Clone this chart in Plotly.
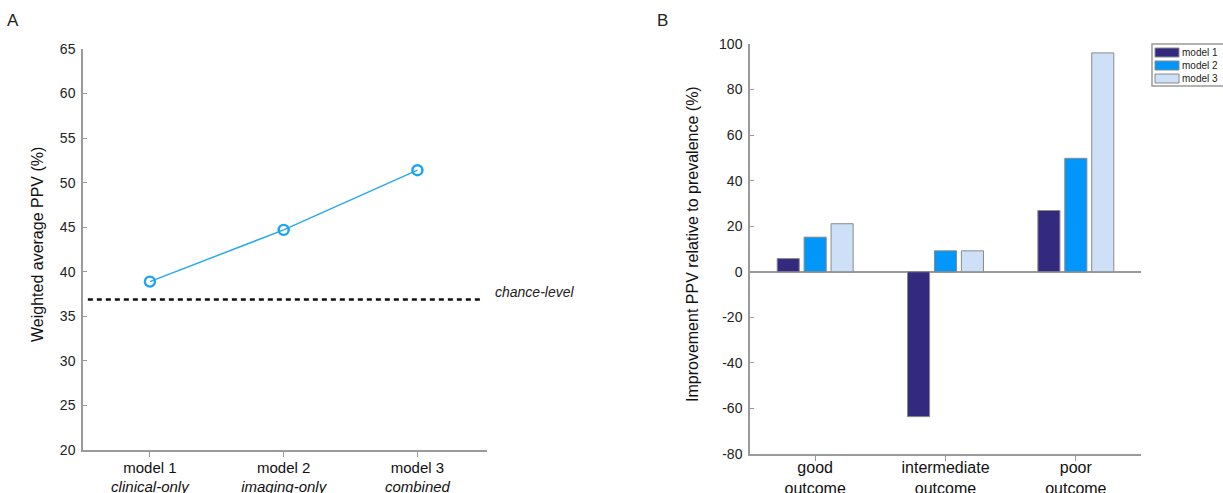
import plotly.graph_objects as go

# Panel A data
models = ["model 1", "model 2", "model 3"]
model_desc = ["clinical-only", "imaging-only", "combined"]
weighted_ppv = [38.9, 44.7, 51.4]
chance_level = 36.9

# Panel B data
outcomes = ["good<br>outcome", "intermediate<br>outcome", "poor<br>outcome"]
model1_impr = [5.8, -63.6, 26.9]
model2_impr = [15.2, 9.2, 49.8]
model3_impr = [21.1, 9.2, 96.1]
bar_colors = ["#332a80", "#0096fa", "#cde0f7"]
yA_ticks = [20, 25, 30, 35, 40, 45, 50, 55, 60, 65]
yB_ticks = [-80, -60, -40, -20, 0, 20, 40, 60, 80, 100]

W, H = 1223, 493
FONT = "Liberation Sans, Arial, Helvetica, sans-serif"
AXC = "#9a9a9a"


def px(x):
    return x / W


def py(y):
    return 1 - y / H


fig = go.Figure()

xA = list(range(len(models)))
fig.add_trace(go.Scatter(
    x=xA, y=weighted_ppv, mode="lines+markers",
    line=dict(color="#2aa8f0", width=1.5),
    marker=dict(symbol="circle-open", size=10, color="#1aa3f5", line=dict(width=2.4, color="#1aa3f5")),
    showlegend=False, xaxis="x", yaxis="y"))

xB = list(range(len(outcomes)))
for name, vals, col in zip(models, [model1_impr, model2_impr, model3_impr], bar_colors):
    fig.add_trace(go.Bar(
        x=xB, y=vals, name=name, marker=dict(color=col, line=dict(color="#8a8a8a", width=1)),
        showlegend=False, xaxis="x2", yaxis="y2"))

fig.add_shape(type="line", xref="x domain", yref="y", x0=0.012, x1=0.988,
              y0=chance_level, y1=chance_level,
              line=dict(color="#111", width=2.5, dash="5px,4px"))

fig.add_annotation(text="<i>chance-level</i>", xref="paper", yref="y", x=px(493), y=chance_level,
                   xanchor="left", yanchor="middle", yshift=7, showarrow=False,
                   font=dict(size=14, color="#222", family=FONT))

# manual legend (wide swatches like the reference)
fig.add_shape(type="rect", xref="paper", yref="paper", x0=px(1152), x1=px(1226), y0=py(86), y1=py(44),
              line=dict(color=AXC, width=1.5), fillcolor="white", layer="above")
for i, (name, col) in enumerate(zip(models, bar_colors)):
    top = 48 + i * 13
    fig.add_shape(type="rect", xref="paper", yref="paper", x0=px(1155), x1=px(1179),
                  y0=py(top + 9), y1=py(top), line=dict(color="#8a8a8a", width=1),
                  fillcolor=col, layer="above")
    fig.add_annotation(text=name, xref="paper", yref="paper", x=px(1180), y=py(top + 4.5),
                       xanchor="left", yanchor="middle", showarrow=False,
                       font=dict(size=10, color="#222", family=FONT))

# panel letters
fig.add_annotation(text="A", xref="paper", yref="paper", x=px(5), y=py(20), xanchor="left",
                   yanchor="middle", showarrow=False, font=dict(size=17, color="#222", family=FONT))
fig.add_annotation(text="B", xref="paper", yref="paper", x=px(655), y=py(20), xanchor="left",
                   yanchor="middle", showarrow=False, font=dict(size=17, color="#222", family=FONT))

# y-axis titles
fig.add_annotation(text="Weighted average PPV (%)", xref="paper", yref="paper", x=px(37),
                   y=py(245), textangle=-90, xanchor="center", yanchor="middle", showarrow=False,
                   font=dict(size=16, color="#111", family=FONT))
fig.add_annotation(text="Improvement PPV relative to prevalence (%)", xref="paper", yref="paper",
                   x=px(692), y=py(244), textangle=-90, xanchor="center", yanchor="middle",
                   showarrow=False, font=dict(size=16, color="#111", family=FONT))

tickfont = dict(size=14, color="#222", family=FONT)
common_y = dict(showgrid=False, showline=True, linecolor=AXC, linewidth=1.5, ticks="inside",
                ticklen=4, tickcolor=AXC, tickfont=tickfont, zeroline=False, automargin=False)
common_x = dict(showgrid=False, showline=True, linecolor=AXC, linewidth=1.5, ticks="outside",
                ticklen=5, tickcolor=AXC, zeroline=False, automargin=False)

fig.update_layout(
    width=W, height=H, margin=dict(l=0, r=0, t=0, b=0, autoexpand=False),
    paper_bgcolor="white", plot_bgcolor="white",
    font=dict(family=FONT, color="#222"),
    barmode="group", bargap=0.38, bargroupgap=0.18, showlegend=False,
    xaxis=dict(domain=[px(83), px(487)], range=[-0.5, 2.52], tickvals=xA,
               ticktext=[f"{m}<br><i>{d}</i>" for m, d in zip(models, model_desc)],
               tickfont=dict(size=15, color="#111", family=FONT), anchor="y", **common_x),
    yaxis=dict(domain=[py(450), py(49)], range=[20, 65], tickvals=yA_ticks,
               ticktext=[str(v) for v in yA_ticks], anchor="x", **common_y),
    xaxis2=dict(domain=[px(750), px(1141)], range=[-0.5, 2.5], tickvals=xB, ticktext=outcomes,
                tickfont=dict(size=16, color="#111", family=FONT), anchor="y2", **common_x),
    yaxis2=dict(domain=[py(454), py(44)], range=[-80, 100], tickvals=yB_ticks,
                ticktext=[str(v) for v in yB_ticks], anchor="x2", **common_y),
)
fig.update_yaxes(zeroline=True, zerolinecolor=AXC, zerolinewidth=1.5, selector=dict(anchor="x2"))
try:
    fig.update_layout(xaxis_ticklabelstandoff=-2, xaxis2_ticklabelstandoff=-7,
                      yaxis_ticklabelstandoff=3, yaxis2_ticklabelstandoff=3)
except Exception:
    pass

fig.write_html(
    "out.html",
    config={"displayModeBar": False},
    post_script="document.documentElement.style.margin='0';document.body.style.margin='0';"
                "document.body.style.padding='0';document.body.style.overflow='hidden';",
)
